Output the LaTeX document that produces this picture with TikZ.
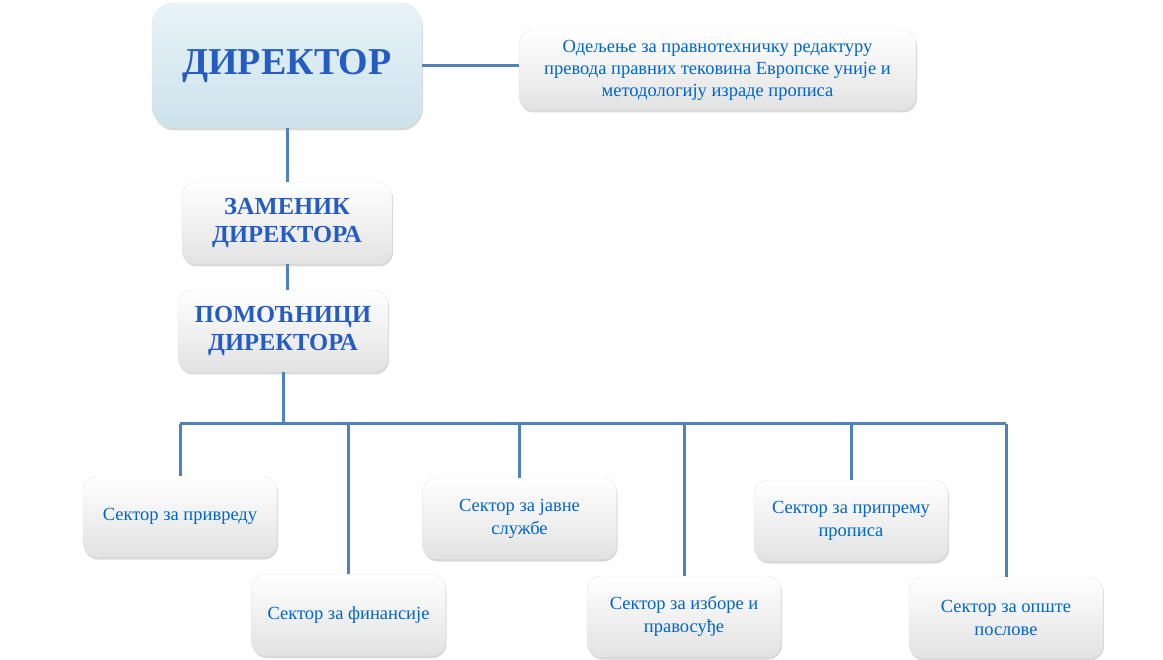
\documentclass[tikz,border=0pt]{standalone}
\usepackage{fontspec}
\setmainfont{Liberation Serif}
\usetikzlibrary{positioning,shadows}
\definecolor{linkblue}{RGB}{79,129,189}
\definecolor{textblue}{RGB}{0,102,204}
\definecolor{headblue}{RGB}{36,92,196}
\definecolor{boxbot}{RGB}{226,226,226}
\definecolor{dirtop}{RGB}{232,243,248}
\definecolor{dirbot}{RGB}{204,226,235}

\begin{document}
\begin{tikzpicture}[x=1pt,y=-1pt]
\tikzset{every node/.style={align=center,inner sep=0pt}}
\tikzset{kutija/.style={rounded corners=14pt, top color=white, bottom color=boxbot, draw=gray!20,
	drop shadow={shadow xshift=1pt,shadow yshift=-2.5pt,opacity=.3}}}
\tikzset{sektor/.style={kutija, minimum width=194pt, minimum height=81pt, text=textblue, font=\fontsize{18.5}{23}\selectfont}}
\tikzset{rukovodilac/.style={kutija, minimum width=210pt, minimum height=82pt, text=headblue, font=\fontsize{24.5}{28}\selectfont\bfseries}}
\tikzset{veza/.style={draw=linkblue, line width=3pt}}
	\useasboundingbox[fill=white] (0,0) rectangle (1163,660);
	\node[kutija, rounded corners=22pt, top color=dirtop, bottom color=dirbot, minimum width=270pt, minimum height=125pt,
		text=headblue, font=\fontsize{38}{42}\selectfont\bfseries] (dir) at (287,65.5) {ДИРЕКТОР};
	\node[kutija, minimum width=397pt, minimum height=80pt, text=textblue, font=\fontsize{18.5}{22}\selectfont]
		(odel) at (717.5,70) {Одељење за правнотехничку редактуру\\превода правних тековина Европске уније и\\методологију израде прописа};
	\node[rukovodilac] (zam) at (287,223) {ЗАМЕНИК\\ДИРЕКТОРА};
	\node[rukovodilac] (pom) at (283,331) {ПОМОЋНИЦИ\\ДИРЕКТОРА};
	\node[sektor] (s1) at (180,516.5) {Сектор за привреду};
	\node[sektor] (s2) at (348.5,615) {Сектор за финансије};
	\node[sektor] (s3) at (519.5,518.5) {Сектор за јавне\\службе};
	\node[sektor] (s4) at (684,616.5) {Сектор за изборе и\\правосуђе};
	\node[sektor] (s5) at (851,520.5) {Сектор за припрему\\прописа};
	\node[sektor] (s6) at (1006,617.5) {Сектор за опште\\послове};
	\coordinate (bus) at (283,424);
	\draw[veza] (dir.east) -- (odel.west |- dir.east);
	\draw[veza] (dir) -- (zam);
	\draw[veza] (zam.south) -- (zam.south |- pom.north);
	\draw[veza] (pom.south) -- (bus);
	\draw[veza] (s1.north |- bus) -- (s6.north |- bus);
	\foreach \s in {s1,s2,s3,s4,s5,s6}
		\draw[veza] (\s.north |- bus) -- (\s.north);
\end{tikzpicture}
\end{document}
